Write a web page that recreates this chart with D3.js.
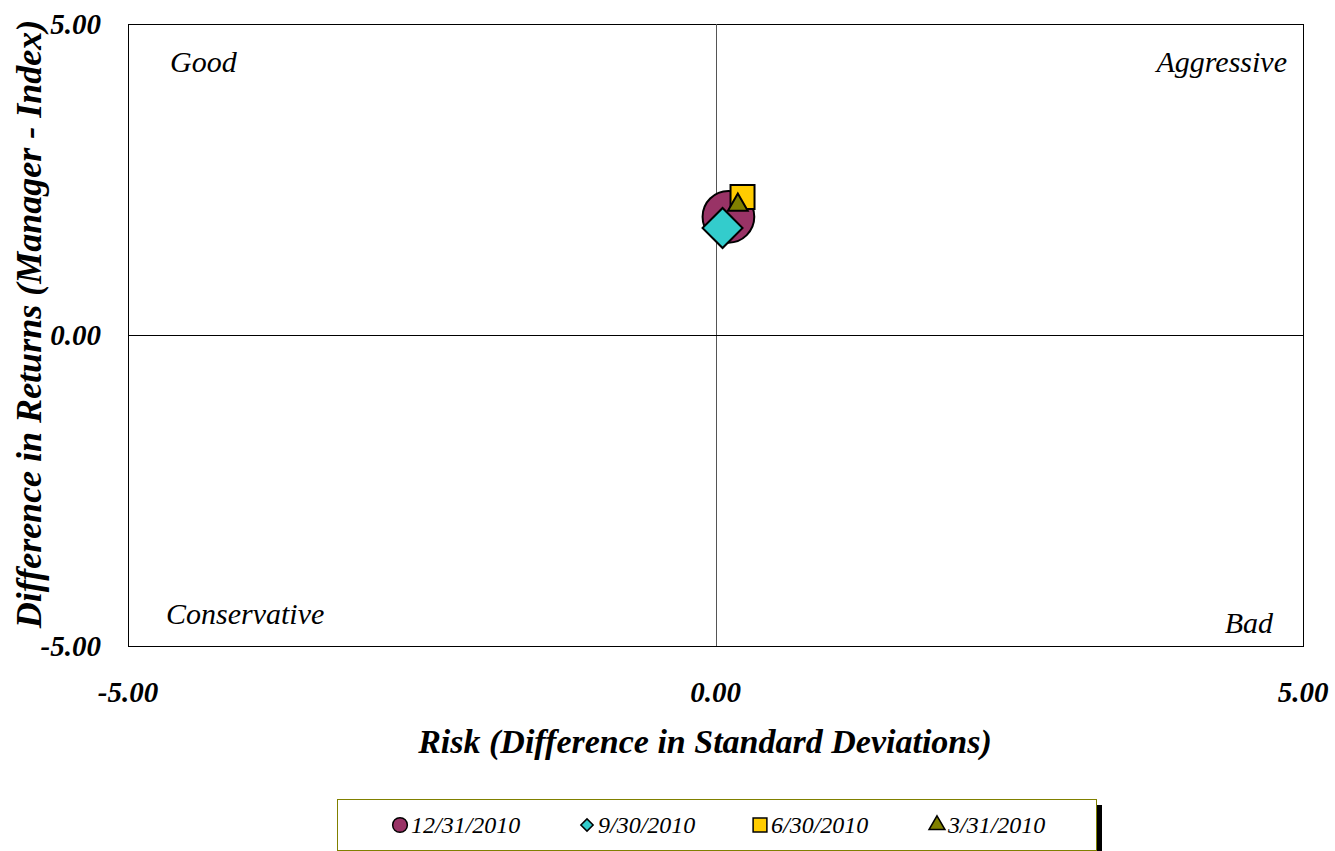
<!DOCTYPE html>
<html>
<head>
<meta charset="utf-8">
<script src="https://cdn.jsdelivr.net/npm/d3@7"></script>
<style>
  body { margin: 0; background: #fff; }
  svg { display: block; }
  text { font-family: "Liberation Serif", serif; font-style: italic; }
</style>
</head>
<body>
<div id="chart"></div>
<script>
// series (risk diff, return diff)
var seriesNames = ["12/31/2010", "9/30/2010", "6/30/2010", "3/31/2010"];
var riskValues = [0.11, 0.06, 0.23, 0.19];
var returnValues = [1.90, 1.72, 2.22, 2.09];
var xTicks = [-5, 0, 5];
var yTicks = [-5, 0, 5];
var quadrantLabels = ["Good", "Aggressive", "Conservative", "Bad"];

var style = {
    colors: ["#993366", "#33CCCC", "#FFCC00", "#808000"],
    shapes: [d3.symbolCircle, d3.symbolSquare, d3.symbolSquare, d3.symbolTriangle],
    rotate: [0, 45, 0, 0],
    sizes: [2100, 800, 576, 170],
    legendSizes: [170, 75, 190, 110]
};

var W = 1335, H = 851;
var margin = {top: 24, right: 32, bottom: 205, left: 128};

var svg = d3.select('#chart').append('svg')
    .attr('width', W)
    .attr('height', H);

var xScale = d3.scaleLinear().domain([-5, 5]).range([margin.left, W - margin.right]);
var yScale = d3.scaleLinear().domain([-5, 5]).range([H - margin.bottom, margin.top]);

var fmt = function(d) { return d3.format('.2f')(d).replace('\u2212', '-'); };

// plot frame
svg.append('rect')
    .attr('x', xScale(-5) + 0.5)
    .attr('y', yScale(5) + 0.5)
    .attr('width', xScale(5) - xScale(-5))
    .attr('height', yScale(-5) - yScale(5))
    .attr('fill', '#fff')
    .attr('stroke', '#000')
    .attr('stroke-width', 1);

// center cross lines
svg.append('line')
    .attr('x1', Math.round(xScale(0)) + 0.5).attr('x2', Math.round(xScale(0)) + 0.5)
    .attr('y1', yScale(5)).attr('y2', yScale(-5))
    .attr('stroke', '#555').attr('stroke-width', 1);
svg.append('line')
    .attr('x1', xScale(-5)).attr('x2', xScale(5))
    .attr('y1', Math.round(yScale(0)) + 0.5).attr('y2', Math.round(yScale(0)) + 0.5)
    .attr('stroke', '#000').attr('stroke-width', 1);

// y tick labels
svg.selectAll('.ytick')
    .data(yTicks)
    .enter().append('text')
    .attr('class', 'ytick')
    .attr('x', 101)
    .attr('y', function(d) { return yScale(d) + 10; })
    .attr('text-anchor', 'end')
    .style('font-size', '29px')
    .style('font-weight', 'bold')
    .text(fmt);

// x tick labels
svg.selectAll('.xtick')
    .data(xTicks)
    .enter().append('text')
    .attr('class', 'xtick')
    .attr('x', function(d) { return xScale(d); })
    .attr('y', 702)
    .attr('text-anchor', 'middle')
    .style('font-size', '29px')
    .style('font-weight', 'bold')
    .text(fmt);

// axis titles
svg.append('text')
    .attr('x', 705)
    .attr('y', 753)
    .attr('text-anchor', 'middle')
    .style('font-size', '34px')
    .style('font-weight', 'bold')
    .text('Risk (Difference in Standard Deviations)');

svg.append('text')
    .attr('transform', 'translate(41,324) rotate(-90)')
    .attr('text-anchor', 'middle')
    .style('font-size', '36px')
    .style('font-weight', 'bold')
    .text('Difference in Returns (Manager - Index)');

// quadrant labels
var qPos = [
    {x: 170, y: 72, anchor: 'start'},
    {x: 1287, y: 72, anchor: 'end'},
    {x: 166, y: 624, anchor: 'start'},
    {x: 1273, y: 633, anchor: 'end'}
];
svg.selectAll('.quad')
    .data(quadrantLabels)
    .enter().append('text')
    .attr('class', 'quad')
    .attr('x', function(d, i) { return qPos[i].x; })
    .attr('y', function(d, i) { return qPos[i].y; })
    .attr('text-anchor', function(d, i) { return qPos[i].anchor; })
    .style('font-size', '30px')
    .text(function(d) { return d; });

// points (diamond drawn last so it sits on top)
var pts = seriesNames.map(function(name, i) {
    return {name: name, x: riskValues[i], y: returnValues[i], i: i};
});
var order = [0, 2, 3, 1];
svg.selectAll('.pt')
    .data(order.map(function(i) { return pts[i]; }))
    .enter().append('path')
    .attr('class', 'pt')
    .attr('transform', function(d) {
        return translation(xScale(d.x), yScale(d.y)) + ' rotate(' + style.rotate[d.i] + ')';
    })
    .attr('d', function(d) { return d3.symbol().type(style.shapes[d.i]).size(style.sizes[d.i])(); })
    .attr('fill', function(d) { return style.colors[d.i]; })
    .attr('stroke', '#000')
    .attr('stroke-width', 2);

// legend
var legend = svg.append('g').attr('class', 'legend');
legend.append('rect')
    .attr('x', 1097).attr('y', 805)
    .attr('width', 5).attr('height', 46)
    .attr('fill', '#000');
legend.append('rect')
    .attr('x', 337.5).attr('y', 799.5)
    .attr('width', 759).attr('height', 51)
    .attr('fill', '#fff')
    .attr('stroke', '#808000')
    .attr('stroke-width', 1);

var legX = [400, 587, 760, 937];
var items = legend.selectAll('.item')
    .data(pts)
    .enter().append('g')
    .attr('class', 'item')
    .attr('transform', function(d, i) { return translation(legX[i], 825); });
items.append('path')
    .attr('transform', function(d) { return 'rotate(' + style.rotate[d.i] + ')'; })
    .attr('d', function(d) { return d3.symbol().type(style.shapes[d.i]).size(style.legendSizes[d.i])(); })
    .attr('fill', function(d) { return style.colors[d.i]; })
    .attr('stroke', '#000')
    .attr('stroke-width', 1.5);
items.append('text')
    .attr('x', 11)
    .attr('y', 8)
    .style('font-size', '24px')
    .text(function(d) { return d.name; });

function translation(x, y) {
    return 'translate(' + x + ',' + y + ')';
}
</script>
</body>
</html>
